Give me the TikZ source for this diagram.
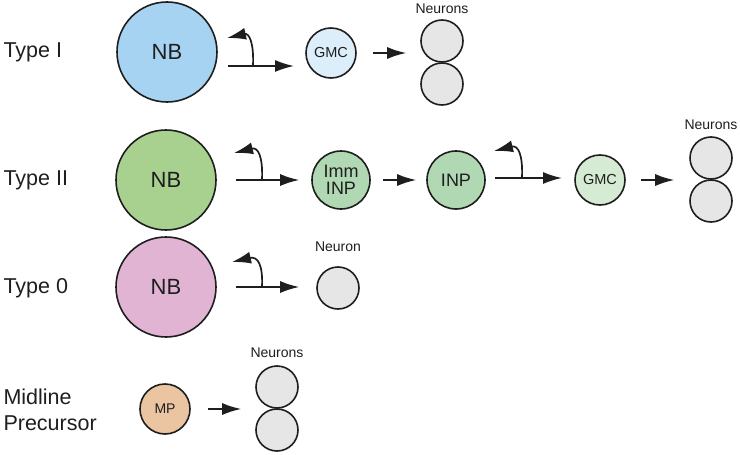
\documentclass[tikz,border=0pt]{standalone}
\usepackage{fontspec}
\setmainfont{Liberation Sans}
\usetikzlibrary{arrows.meta}
\definecolor{nbblue}{HTML}{A7D3F2}
\definecolor{gmcblue}{HTML}{DDEEFB}
\definecolor{nbgreen}{HTML}{A8D08F}
\definecolor{inpgreen}{HTML}{B0D8B2}
\definecolor{gmcgreen}{HTML}{D5EBD3}
\definecolor{nbpink}{HTML}{E2B4D3}
\definecolor{mptan}{HTML}{EBC5A2}
\definecolor{neurgray}{HTML}{E6E6E6}
\definecolor{ink}{HTML}{1E1E1E}
\begin{document}
\begin{tikzpicture}[x=1pt,y=-1pt,
  cell/.style={circle,draw=ink,line width=1.6pt,inner sep=0pt,text=ink},
  bigcell/.style={cell,minimum size=100pt,font=\fontsize{22}{24}\selectfont},
  gmccell/.style={cell,minimum size=50pt,font=\fontsize{14.5}{16}\selectfont},
  inpcell/.style={cell,fill=inpgreen,minimum size=58pt,font=\fontsize{18}{20}\selectfont,align=center},
  neuron/.style={cell,fill=neurgray,minimum size=42pt},
  nlabel/.style={font=\fontsize{14}{15}\selectfont,text=ink},
  rowlabel/.style={anchor=west,align=left,font=\fontsize{21.5}{26}\selectfont,text=ink},
  arr/.style={-{Latex[length=19pt,width=12pt]},line width=1.7pt,draw=ink}]
\useasboundingbox (0,0) rectangle (740,455);

% Row labels
\node[rowlabel] (lI) at (0,52) {Type I};
\node[rowlabel] (lII) at (0,180) {Type II};
\node[rowlabel] (l0) at (0,288) {Type 0};
\node[rowlabel] (lM) at (0,410) {Midline\\Precursor};

% ---------- Type I ----------
\node[bigcell,fill=nbblue] (nb1) at (167,52) {NB};
\node[gmccell,fill=gmcblue] (gmc1) at (331,53) {GMC};
\node[neuron] (n1a) at (442,41) {};
\node[neuron] (n1b) at (442,84) {};
\node[nlabel] (n1l) at (442,9) {Neurons};
\coordinate (s1) at (228,66);
\coordinate (b1) at (253,66);
\coordinate (e1) at (294,66);
\coordinate (t1) at (227,38);
\draw[arr] (s1) -- (e1);
\draw[arr] (b1) .. controls (254,42) and (249,33) .. (t1);
\draw[arr,shorten <=16pt,shorten >=14pt] (gmc1.east) -- (gmc1.east -| n1a.west);

% ---------- Type II ----------
\node[bigcell,fill=nbgreen] (nb2) at (166,180) {NB};
\node[inpcell] (imm) at (341,180) {Imm\\[-3pt]INP};
\node[inpcell] (inp) at (456,180) {INP};
\node[gmccell,fill=gmcgreen] (gmc2) at (600,180) {GMC};
\node[neuron] (n2a) at (711,158) {};
\node[neuron] (n2b) at (711,201) {};
\node[nlabel] (n2l) at (711,125) {Neurons};
\coordinate (b2) at (262,180);
\coordinate (t2) at (234,153);
\draw[arr,shorten <=19pt,shorten >=12pt] (nb2.east) -- (imm.west);
\draw[arr] (b2) .. controls (263,156) and (258,147) .. (t2);
\draw[arr,shorten <=12pt,shorten >=10pt] (imm.east) -- (inp.west);
\coordinate (s3) at (495,178);
\coordinate (b3) at (522,178);
\coordinate (e3) at (562,178);
\coordinate (t3) at (494,151);
\draw[arr] (s3) -- (e3);
\draw[arr] (b3) .. controls (523,154) and (518,145) .. (t3);
\draw[arr,shorten <=15pt,shorten >=15pt] (gmc2.east) -- (gmc2.east -| n2a.west);

% ---------- Type 0 ----------
\node[bigcell,fill=nbpink] (nb0) at (166,287) {NB};
\node[neuron] (n0) at (338,288) {};
\node[nlabel] (n0l) at (338,247) {Neuron};
\coordinate (b0) at (262,287);
\coordinate (t0) at (232,262);
\draw[arr,shorten <=19pt,shorten >=17pt] (nb0.east) -- (nb0.east -| n0.west);
\draw[arr] (b0) .. controls (263,265) and (258,256) .. (t0);

% ---------- Midline Precursor ----------
\node[cell,fill=mptan,minimum size=50pt,font=\fontsize{14}{16}\selectfont] (mp) at (165,409) {MP};
\node[neuron] (nma) at (277,387) {};
\node[neuron] (nmb) at (277,430) {};
\node[nlabel] (nml) at (277,353) {Neurons};
\draw[arr,shorten <=17pt,shorten >=14pt] (mp.east) -- (mp.east -| nma.west);
\end{tikzpicture}
\end{document}
